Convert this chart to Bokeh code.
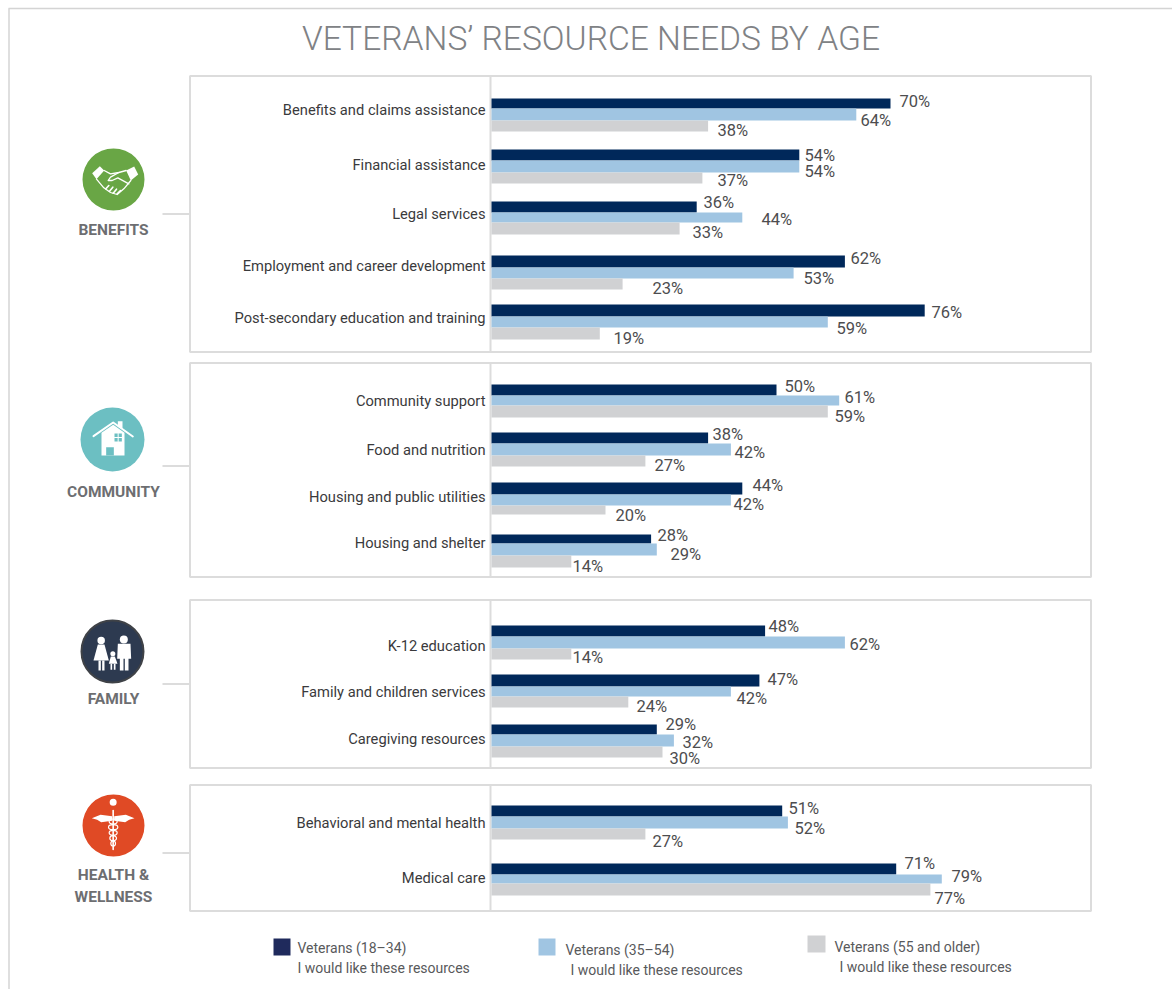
from bokeh.plotting import figure
from bokeh.embed import file_html
from bokeh.resources import INLINE
from bokeh.models import Range1d, LinearAxis, FixedTicker
from bokeh.core.properties import value

TITLE = "VETERANS’ RESOURCE NEEDS BY AGE"
CATEGORIES = [
    "Benefits and claims assistance", "Financial assistance", "Legal services",
    "Employment and career development", "Post-secondary education and training",
    "Community support", "Food and nutrition", "Housing and public utilities", "Housing and shelter",
    "K-12 education", "Family and children services", "Caregiving resources",
    "Behavioral and mental health", "Medical care",
]
VETERANS_18_34 = [70, 54, 36, 62, 76, 50, 38, 44, 28, 48, 47, 29, 51, 71]
VETERANS_35_54 = [64, 54, 44, 53, 59, 61, 42, 42, 29, 62, 42, 32, 52, 79]
VETERANS_55_UP = [38, 37, 33, 23, 19, 59, 27, 20, 14, 14, 24, 30, 27, 77]
LEGEND_NAMES = ["Veterans (18–34)", "Veterans (35–54)", "Veterans (55 and older)"]
LEGEND_SUB = "I would like these resources"

# ---- layout (page pixels) ----
W, H = 1172, 989
X0 = 491.0
PX_PER_PCT = 5.70
NAVY, LIGHT, GREY = "#00285a", "#a0c5e2", "#d0d1d3"
BORDER = "#dcdcdc"
LABEL_FONT = "Roboto"
VAL_COLOR = "#4d4d4f"

CAT_Y = [109, 164, 213, 265, 317, 400, 449, 496, 542, 645, 691, 738, 822, 877]
BAR_EDGES = [
    (98, 108, 120, 131), (149, 160, 172, 183), (201, 212, 222, 234), (255, 267, 278, 289), (304, 316, 327, 339),
    (384, 395, 405, 417), (432, 443, 455, 466), (482, 494, 505, 514), (534, 543, 555, 567),
    (625, 636, 648, 659), (674, 686, 696, 707), (724, 734, 746, 757),
    (805, 816, 828, 839), (863, 874, 883, 895),
]
LBL_A = [(899, 101), (804, 155), (703, 202), (850, 258), (931, 312), (784, 386), (712, 434), (752, 485), (657, 535),
         (768, 626), (767, 679), (665, 724), (788, 808), (904, 863)]
LBL_B = [(860, 120), (804, 171), (761, 219), (803, 278), (836, 328), (844, 397), (734, 452), (733, 504), (670, 554),
         (849, 644), (736, 698), (682, 742), (794, 828), (951, 876)]
LBL_C = [(717, 130), (717, 180), (692, 232), (652, 288), (613, 338), (834, 416), (654, 465), (615, 515), (572, 566),
         (572, 657), (636, 706), (669, 758), (652, 841), (934, 898)]
PANELS = [(75.5, 351.5), (362.5, 576.5), (599.5, 767.5), (784.5, 910.5)]
CONNECT_Y = [213.5, 465.5, 683.5, 852.5]

p = figure(width=W, height=H, output_backend="svg", toolbar_location=None,
           x_range=Range1d((0 - X0) / PX_PER_PCT, (W - X0) / PX_PER_PCT),
           y_range=Range1d(H, 0),
           min_border=0, min_border_left=0, min_border_right=0, min_border_top=0, min_border_bottom=0,
           x_axis_location=None, y_axis_location=None, outline_line_color=None,
           background_fill_color="white", border_fill_color="white")
p.grid.visible = False
p.extra_x_ranges = {"px": Range1d(0, W)}
PX = dict(x_range_name="px")

# page frame (left and top)
p.line([8.5, 8.5], [8, H], line_color="#d4d4d4", line_width=1.5, **PX)
p.line([8, W], [8, 8], line_color="#d4d4d4", line_width=1.5, **PX)

# title
p.text([590.5], [38], text=[TITLE], text_font=value("Roboto Light"), text_font_size="33.6px", text_color="#808285",
       text_align="center", text_baseline="middle", **PX)

# panels
for top, bot in PANELS:
    p.quad(left=[189.5], right=[1090.5], top=[top], bottom=[bot], fill_color="white",
           line_color=BORDER, line_width=2, **PX)
    p.line([490, 490], [top, bot], line_color=BORDER, line_width=2, **PX)
for y in CONNECT_Y:
    p.line([162, 190], [y, y], line_color=BORDER, line_width=2, **PX)

# bars
for i, (vals, col, lbl) in enumerate(((VETERANS_18_34, NAVY, LBL_A), (VETERANS_35_54, LIGHT, LBL_B), (VETERANS_55_UP, GREY, LBL_C))):
    ys = [(e[i] + e[i + 1]) / 2 for e in BAR_EDGES]
    hs = [e[i + 1] - e[i] for e in BAR_EDGES]
    p.hbar(y=ys, height=hs, left=0, right=vals, fill_color=col, line_color=None)
    p.text([a for a, _ in lbl], [b for _, b in lbl], text=[f"{v}%" for v in vals],
           text_font=value(LABEL_FONT), text_font_size="16.5px", text_color=VAL_COLOR,
           text_align="left", text_baseline="middle", **PX)

# category axis, crossing the value axis at zero
ax = LinearAxis(fixed_location=0, ticker=FixedTicker(ticks=CAT_Y),
                major_label_overrides={y: c for y, c in zip(CAT_Y, CATEGORIES)},
                axis_line_color=None, major_tick_line_color=None, minor_tick_line_color=None,
                major_tick_in=0, major_tick_out=0, major_label_standoff=6,
                major_label_text_font=LABEL_FONT, major_label_text_font_size="14.7px",
                major_label_text_color="#3a3a3c")
p.add_layout(ax, "left")

# group labels
for txt, x, y in (("BENEFITS", 113, 229), ("COMMUNITY", 113, 491), ("FAMILY", 113, 698),
                  ("HEALTH &", 113, 874), ("WELLNESS", 113, 896)):
    p.text([x], [y], text=[txt], text_font=value(LABEL_FONT), text_font_size="15.5px", text_font_style="bold",
           text_color="#6d6e71", text_align="center", text_baseline="middle", **PX)

# icons: coordinates are in zoom-crop units (3x) with a crop origin
def Z(ox, oy, pts):
    return [ox + a / 3 for a, _ in pts], [oy + b / 3 for _, b in pts]
def poly(ox, oy, pts, col="white"):
    xs, ys = Z(ox, oy, pts)
    p.patch(xs, ys, fill_color=col, line_color=None, **PX)
def stroke(ox, oy, pts, col="white", w=1.3):
    xs, ys = Z(ox, oy, pts)
    p.line(xs, ys, line_color=col, line_width=w, line_cap="round", line_join="round", **PX)
def dot(x, y, d, col="white", lc=None, lw=1):
    p.scatter([x], [y], size=d, marker="circle", fill_color=col, line_color=lc, line_width=lw, **PX)

# benefits: handshake
GREEN = "#69a645"
dot(113, 179, 62, GREEN)
O = (60, 130)
poly(*O, [(95, 128), (118, 107), (131, 120), (108, 146)])
poly(*O, [(197, 120), (221, 108), (233, 132), (211, 150)])
stroke(*O, [(108, 146), (130, 172), (150, 186), (170, 192), (190, 175), (211, 150)])
stroke(*O, [(131, 120), (150, 130), (175, 126), (197, 120)])
stroke(*O, [(175, 126), (150, 140), (143, 150), (155, 150), (172, 142), (205, 160)])
for a, b in (((136, 175), (145, 165)), ((147, 182), (157, 170)), ((158, 188), (168, 176)), ((170, 190), (180, 180))):
    stroke(*O, [a, b], w=1.6)

# community: house
TEAL = "#6cbfc2"
dot(112, 439, 64, TEAL)
O = (60, 395)
poly(*O, [(172, 77), (186, 77), (186, 102), (172, 92)])
poly(*O, [(123, 180), (123, 112), (158, 88), (192, 112), (192, 180)])
stroke(*O, [(99, 122), (158, 81), (217, 123)], w=2)
poly(*O, [(137, 180), (137, 155), (160, 155), (160, 180)], TEAL)
poly(*O, [(162, 114), (184, 114), (184, 138), (162, 138)], TEAL)
stroke(*O, [(173, 114), (173, 138)], w=1)
stroke(*O, [(162, 126), (184, 126)], w=1)

# family
DARK = "#2d3a50"
dot(112, 651, 62, DARK, "#3f4247", 2)
O = (60, 610)
dot(O[0] + 122 / 3, O[1] + 90 / 3, 7.5)
poly(*O, [(112, 102), (132, 102), (145, 150), (99, 150)])
poly(*O, [(114, 150), (121, 150), (121, 180), (114, 180)])
poly(*O, [(125, 150), (132, 150), (132, 180), (125, 180)])
dot(O[0] + 190 / 3, O[1] + 87 / 3, 8)
poly(*O, [(172, 100), (210, 100), (212, 145), (204, 145), (204, 180), (193, 180), (193, 145), (189, 145),
          (189, 180), (178, 180), (178, 145), (170, 145)])
dot(O[0] + 157 / 3, O[1] + 130 / 3, 5)
poly(*O, [(151, 138), (163, 138), (171, 160), (145, 160)])
poly(*O, [(150, 160), (155, 160), (155, 178), (150, 178)])
poly(*O, [(160, 160), (165, 160), (165, 178), (160, 178)])

# health: caduceus
RED = "#e04a25"
dot(113, 825, 62, RED)
O = (60, 785)
dot(O[0] + 158 / 3, O[1] + 50 / 3, 7)
poly(*O, [(155, 92), (120, 88), (94, 98), (110, 103), (122, 110), (155, 106)])
poly(*O, [(161, 92), (196, 88), (222, 98), (206, 103), (194, 110), (161, 106)])
stroke(*O, [(158, 75), (158, 192)], w=1.6)
for yy, ww in ((108, 24), (125, 28), (142, 24), (158, 20), (174, 14)):
    xs, ys = Z(*O, [(158, yy)])
    p.ellipse(xs, ys, width=ww / 3, height=5, fill_color=None, line_color="white", line_width=1.2, **PX)

# legend
for (x0, x1, y0, y1), col in (((273, 290, 938, 955), "#1f2a5c"), ((538, 555, 938, 955), LIGHT), ((807, 825, 935, 952), GREY)):
    p.quad(left=[x0], right=[x1], top=[y0], bottom=[y1], fill_color=col, line_color=None, **PX)
LEG_POS = [(297, 947, 297, 967), (565, 949, 570, 969), (834, 946, 839, 966)]
for name, (x1, y1, x2, y2) in zip(LEGEND_NAMES, LEG_POS):
    p.text([x1, x2], [y1, y2], text=[name, LEGEND_SUB], text_font=value(LABEL_FONT), text_font_size="14px",
           text_color="#58595b", text_align="left", text_baseline="middle", **PX)

open("out.html", "w").write(file_html(p, INLINE))
